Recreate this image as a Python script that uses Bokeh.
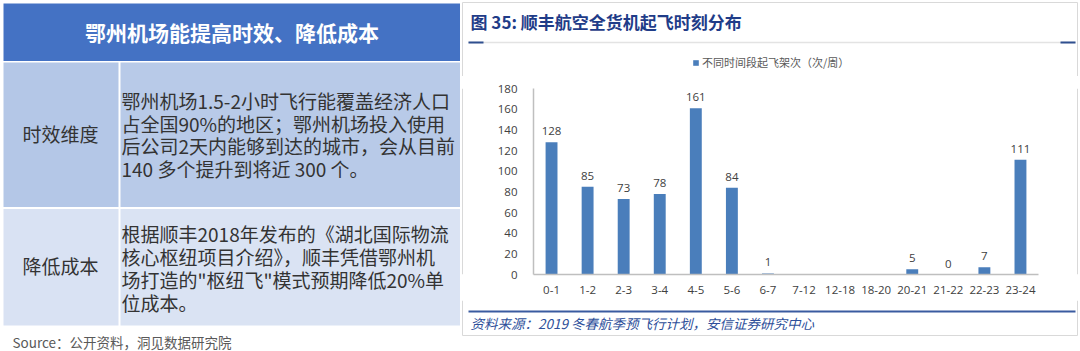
from bokeh.plotting import figure
from bokeh.layouts import row, column
from bokeh.models import (Range1d, FactorRange, ColumnDataSource, LabelSet, FixedTicker)
from bokeh.core.properties import value
from bokeh.embed import file_html
from bokeh.resources import INLINE

# ---------------- data ----------------
categories = ["0-1", "1-2", "2-3", "3-4", "4-5", "5-6", "6-7", "7-12",
              "12-18", "18-20", "20-21", "21-22", "22-23", "23-24"]
flights = [128, 85, 73, 78, 161, 84, 1, None, None, None, 5, 0, 7, 111]
y_ticks = [0, 20, 40, 60, 80, 100, 120, 140, 160, 180]
series_name = "不同时间段起飞架次（次/周）"
chart_title = "图 35: 顺丰航空全货机起飞时刻分布"
chart_source = "资料来源：2019 冬春航季预飞行计划，安信证券研究中心"

panel_title = "鄂州机场能提高时效、降低成本"
row_heads = ["时效维度", "降低成本"]
row_lines = [
    ["鄂州机场1.5-2小时飞行能覆盖经济人口",
     "占全国90%的地区；鄂州机场投入使用",
     "后公司2天内能够到达的城市，会从目前",
     "140 多个提升到将近 300 个。"],
    ["根据顺丰2018年发布的《湖北国际物流",
     "核心枢纽项目介绍》，顺丰凭借鄂州机",
     "场打造的\"枢纽飞\"模式预期降低20%单",
     "位成本。"],
]
panel_source = "Source：公开资料，洞见数据研究院"

CJK = "Noto Sans CJK SC"
NUM = "Open Sans"
BORDER = "#D9D9D9"
BAR = "#4A7EBB"


def canvas(w, h, x0, x1, y0, y1):
    f = figure(width=w, height=h, x_range=Range1d(x0, x1), y_range=Range1d(y1, y0),
               output_backend="svg", toolbar_location=None, min_border=0,
               x_axis_location=None, y_axis_location=None)
    f.grid.visible = False
    f.outline_line_color = None
    f.background_fill_color = "white"
    f.border_fill_color = "white"
    return f


def txt(f, s, x, y, size, color, align="left", style="normal", font=CJK):
    f.text(x=[x], y=[y], text=[s], text_font=value(font), text_font_size=value(f"{size}px"),
           text_color=color, text_align=align, text_baseline="middle",
           text_font_style=style)


def rect(f, x0, y0, x1, y1, color):
    f.quad(left=[x0], right=[x1], top=[y0], bottom=[y1], fill_color=color, line_color=None)


def seg(f, x0, y0, x1, y1, color, w=1):
    f.segment(x0=[x0], y0=[y0], x1=[x1], y1=[y1], line_color=color, line_width=w)


# ---------------- left panel (table) ----------------
L = canvas(460, 351, 0, 460, 0, 351)
rect(L, 3, 3, 460, 60.5, "#4472C4")
rect(L, 3, 62, 118, 206.5, "#B4C7E7")
rect(L, 120, 62, 460, 206.5, "#B8CAE8")
rect(L, 3, 208.5, 118, 325, "#D9E2F3")
rect(L, 120, 208.5, 460, 325, "#DAE3F3")
txt(L, panel_title, 231.5, 31.5, 21, "white", align="center", style="bold")
txt(L, row_heads[0], 60, 133, 19, "#333333", align="center")
txt(L, row_heads[1], 60, 265, 19, "#333333", align="center")
for i, t in enumerate(row_lines[0]):
    txt(L, t, 121, 100 + i * 22.7, 19, "#333333")
for i, t in enumerate(row_lines[1]):
    txt(L, t, 121, 233 + i * 23, 19, "#333333")
txt(L, panel_source, 12, 341, 13.5, "#595959")

# ---------------- right panel: top strip (title + legend) ----------------
TH = 76
T = canvas(620, TH, 460, 1080, 0, TH)
seg(T, 462, 2, 1077, 2, BORDER)
seg(T, 462, 2, 462, TH, BORDER)
seg(T, 1077, 2, 1077, TH, BORDER)
txt(T, chart_title, 470, 21, 17, "#1F3C88", style="bold")
seg(T, 468, 42, 1075, 42, "#E3E3E3", 1.5)
seg(T, 468, 42, 483, 42, "#2F4F8F", 2)
seg(T, 1060, 42, 1075, 42, "#2F4F8F", 2)
# legend entry for the bar series (same styling as the bars; its proxy lies off-view)
T.vbar(x=[-10000], top=[0], width=1, fill_color=BAR, line_color=None,
       legend_label=series_name)
leg = T.legend[0]
leg.location = (692 - 460, TH - 70)
leg.orientation = "horizontal"
leg.background_fill_alpha = 0
leg.border_line_color = None
leg.label_text_font = CJK
leg.label_text_font_size = "11px"
leg.label_text_color = "#595959"
leg.glyph_width = 7
leg.glyph_height = 7
leg.label_standoff = 3
leg.label_height = 12
leg.padding = 0
leg.margin = 0
leg.spacing = 0

# ---------------- right panel: chart ----------------
FL, FR, FT, FB = 533, 1038, 88, 274
CX0, CX1, CY0, CY1 = 470, 1070, TH, 300

bx = [c for c, v in zip(categories, flights) if v is not None]
bt = [v for v in flights if v is not None]
src = ColumnDataSource(dict(x=bx, top=bt, label=[str(v) for v in bt]))

p = figure(width=CX1 - CX0, height=CY1 - CY0, x_range=FactorRange(factors=categories),
           y_range=Range1d(0, 180), output_backend="svg", toolbar_location=None,
           min_border_left=FL - CX0, min_border_right=CX1 - FR,
           min_border_top=FT - CY0, min_border_bottom=CY1 - FB)
p.background_fill_color = "white"
p.border_fill_color = "white"
p.outline_line_color = None
p.xgrid.grid_line_color = None
p.ygrid.grid_line_color = None

p.vbar(x="x", top="top", width=0.33, source=src, fill_color=BAR, line_color=None)

p.add_layout(LabelSet(x="x", y="top", text="label", source=src, text_align="center",
                      text_baseline="middle", y_offset=11, text_font=value(NUM),
                      text_font_size=value("11.5px"), text_color="#404040"))

for ax in (p.xaxis, p.yaxis):
    ax.axis_line_color = "#BFBFBF"
    ax.axis_line_width = 1.5
    ax.major_tick_line_color = None
    ax.minor_tick_line_color = None
    ax.major_label_text_font = NUM
    ax.major_label_text_font_size = "11.5px"
    ax.major_label_text_color = "#404040"
p.yaxis.ticker = FixedTicker(ticks=y_ticks)
p.yaxis.major_label_standoff = 10
p.xaxis.major_label_standoff = 5

SL = canvas(CX0 - 460, CY1 - CY0, 460, CX0, CY0, CY1)
seg(SL, 462, CY0, 462, CY1, BORDER)
SR = canvas(1080 - CX1, CY1 - CY0, CX1, 1080, CY0, CY1)
seg(SR, 1077, CY0, 1077, CY1, BORDER)

# ---------------- right panel: bottom strip ----------------
B = canvas(620, 51, 460, 1080, 300, 351)
seg(B, 462, 300, 462, 335, BORDER)
seg(B, 1077, 300, 1077, 335, BORDER)
seg(B, 462, 335, 1077, 335, BORDER)
seg(B, 468, 311, 1075, 311, "#3A5BA0", 2)
txt(B, chart_source, 470, 322, 13.5, "#2E4F9A", style="italic")

layout = row(L, column(T, row(SL, p, SR), B))
open("out.html", "w").write(file_html(layout, INLINE))
